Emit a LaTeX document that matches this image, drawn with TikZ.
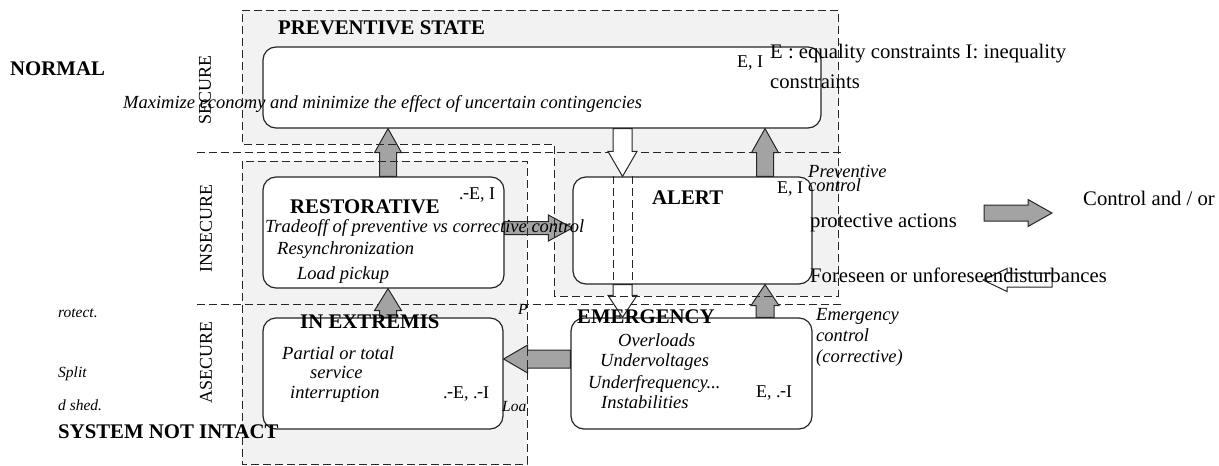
\documentclass[tikz,border=0pt]{standalone}
\usepackage{fontspec}
\setmainfont{Liberation Serif}
\usetikzlibrary{calc}
\newcommand\blockarrow[6]{%
  \path (#2) coordinate (bas) (#3) coordinate (bae);
  \path ($(bae)!#6!(bas)$) coordinate (bah);
  \draw[#1] ($(bas)!#4!90:(bae)$) -- ($(bah)!#4!90:(bae)$) -- ($(bah)!#5!90:(bae)$) -- (bae)
     -- ($(bah)!#5!-90:(bae)$) -- ($(bah)!#4!-90:(bae)$) -- ($(bas)!#4!-90:(bae)$) -- cycle;}
\newcommand\negmark{.\kern-0.5pt\raisebox{1pt}{-}}
\begin{document}
\begin{tikzpicture}[x=1pt,y=-1pt,
  box/.style={draw=black!85, line width=1.2pt, rounded corners=13pt, fill=white, inner sep=0pt},
  region/.style={fill=gray!10},
  regionline/.style={draw=black!85, line width=1pt, dash pattern=on 8pt off 4pt},
  garrow/.style={fill=gray!72, draw=black!85, line width=1pt},
  warrow/.style={fill=white, draw=black!85, line width=1pt},
  ttl/.style={font=\fontsize{20.8}{24}\selectfont\bfseries, inner sep=0pt, anchor=base west},
  txtbig/.style={font=\fontsize{20.7}{24}\selectfont, inner sep=0pt, anchor=base west},
  txtit/.style={font=\fontsize{18.5}{22}\selectfont\itshape, inner sep=0pt, anchor=base west},
  txtlbl/.style={font=\fontsize{18}{22}\selectfont, inner sep=0pt, anchor=base west},
  sidelbl/.style={font=\fontsize{18}{22}\selectfont, inner sep=0pt, rotate=90},
  txtsmall/.style={font=\fontsize{15.5}{18}\selectfont\itshape, inner sep=0pt, anchor=base west}]
\useasboundingbox (0,0) rectangle (1219,466);

% shaded regions
\fill[region] (242,10) -- (838,10) -- (838,296) -- (554,296) -- (554,144) -- (242,144) -- cycle;
\fill[region] (242,161) rectangle (527,464);

% state boxes
\node[box, minimum width=558pt, minimum height=81pt] (prev) at (542,87.5) {};
\node[box, minimum width=241pt, minimum height=111pt] (rest) at (383.5,232.5) {};
\node[box, minimum width=239pt, minimum height=107pt] (alert) at (692.5,230.5) {};
\node[box, minimum width=240pt, minimum height=111pt] (extr) at (383,373.5) {};
\node[box, minimum width=241pt, minimum height=111pt] (emerg) at (691.5,373.5) {};

% dividers
\draw[regionline] (197,152) -- (845,152);
\draw[regionline] (197,304) -- (842,304);

% arrows
\coordinate (cx1) at ([xshift=4.5pt]rest.north);
\blockarrow{garrow}{cx1}{cx1 |- prev.south}{8.5pt}{13.5pt}{24pt}
\blockarrow{garrow}{cx1 |- extr.north}{cx1 |- rest.south}{8.5pt}{13.5pt}{22pt}
\coordinate (cx2) at ([xshift=72.5pt]alert.north);
\blockarrow{garrow}{cx2}{cx2 |- prev.south}{8.5pt}{13.5pt}{24pt}
\blockarrow{garrow}{cx2 |- emerg.north}{cx2 |- alert.south}{9pt}{14pt}{21pt}
\coordinate (cy1) at ([yshift=4.5pt]rest.east);
\blockarrow{garrow}{cy1}{cy1 -| alert.west}{6.5pt}{13pt}{24pt}
\coordinate (cy2) at ([yshift=14.5pt]emerg.west);
\blockarrow{garrow}{cy2}{cy2 -| extr.east}{9pt}{14pt}{24pt}
\coordinate (cx3) at ([xshift=-70pt]alert.north);
\blockarrow{warrow}{cx3 |- prev.south}{cx3}{9.5pt}{14.5pt}{25pt}
\blockarrow{warrow}{cx3 |- alert.south}{cx3 |- emerg.north}{9.5pt}{14.5pt}{22pt}
\coordinate (d1a) at ([xshift=-9.5pt]cx3);
\coordinate (d1b) at (d1a |- alert.south);
\coordinate (d2a) at ([xshift=9.5pt]cx3);
\coordinate (d2b) at (d2a |- alert.south);
\draw[regionline] (d1a) -- (d1b);
\draw[regionline] (d2a) -- (d2b);

% region outlines
\draw[regionline] (242,10) -- (838,10) -- (838,296) -- (554,296) -- (554,144) -- (242,144) -- cycle;
\draw[regionline] (242,161) rectangle (527,464);

% legend arrows
\coordinate (lg1s) at (984,213);
\coordinate (lg1e) at (1052,213);
\blockarrow{garrow}{lg1s}{lg1e}{8pt}{13.5pt}{24pt}
\coordinate (lg2s) at (1052,280);
\coordinate (lg2e) at (983,280);
\blockarrow{warrow}{lg2s}{lg2e}{7pt}{11.5pt}{24pt}

% texts
\node[ttl] (tnormal) at (10,75) {NORMAL};
\node[ttl] (tprev) at (278,34) {PREVENTIVE STATE};
\node[sidelbl] (tsec) at (205,90) {SECURE};
\node[sidelbl] (tinsec) at (206,228) {INSECURE};
\node[sidelbl] (tasec) at (206,362) {ASECURE};
\node[txtit] (tmax) at (123,108.5) {Maximize economy and minimize the effect of uncertain contingencies};
\node[txtlbl] (tei1) at (737,67.5) {E, I};
\node[txtbig] (teq1) at (770,58) {E : equality constraints I: inequality};
\node[txtbig] (teq2) at (770,88) {constraints};

\node[ttl] (trest) at (290,213) {RESTORATIVE};
\node[txtlbl] (tei2) at (459,199) {\negmark E, I};
\node[txtit] (ttrade) at (265,232) {Tradeoff of preventive vs corrective control};
\node[txtit] (tresync) at (277,254) {Resynchronization};
\node[txtit] (tload) at (297,279) {Load pickup};

\node[ttl] (talert) at (652,204) {ALERT};
\node[txtlbl] (tei3) at (777,193) {E, I};
\node[txtit] (tpc1) at (808,177) {Preventive};
\node[txtit] (tpc2) at (808,191.5) {control};
\node[txtbig] (tprot) at (810,227) {protective actions};
\node[txtbig] (tfore) at (810,282) {Foreseen or unforeseendisturbances};
\node[txtbig] (tctrl) at (1083,205) {Control and / or};

\node[txtsmall] (trot) at (58,317) {rotect.};
\node[txtsmall] (tsplit) at (58,377) {Split};
\node[txtsmall] (tshed) at (58,410) {d shed.};
\node[ttl] (tsni) at (58,438) {SYSTEM NOT INTACT};

\node[ttl] (textr) at (300,328) {IN EXTREMIS};
\node[txtit] (tpart1) at (282,359) {Partial or total};
\node[txtit] (tpart2) at (310,378) {service};
\node[txtit] (tpart3) at (290,398) {interruption};
\node[txtlbl] (tei4) at (443,398) {\negmark E, \negmark I};
\node[txtsmall] (tp) at (518,314) {P};
\node[txtsmall] (tloa) at (502,411) {Loa};

\node[ttl] (temerg) at (577,323) {EMERGENCY};
\node[txtit] (tov) at (618,346) {Overloads};
\node[txtit] (tuv) at (600,366) {Undervoltages};
\node[txtit] (tuf) at (588,388) {Underfrequency...};
\node[txtit] (tin) at (601,408) {Instabilities};
\node[txtlbl] (tei5) at (756,397) {E, \negmark I};
\node[txtit] (tec1) at (816,320) {Emergency};
\node[txtit] (tec2) at (816,341) {control};
\node[txtit] (tec3) at (816,362) {(corrective)};
\end{tikzpicture}
\end{document}
